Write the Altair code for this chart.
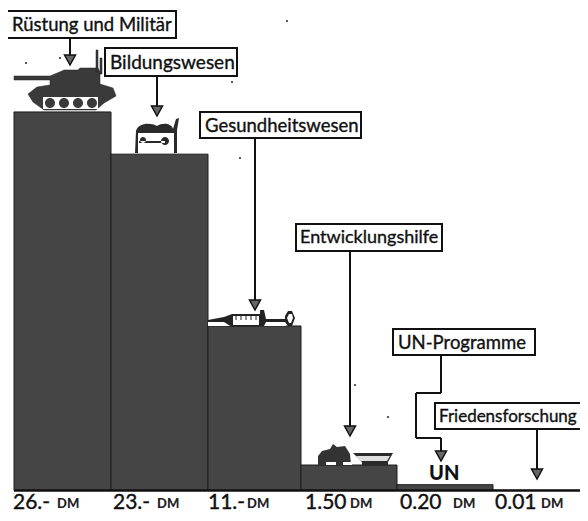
import altair as alt
import pandas as pd

# Bars
bar_left = [14, 111, 208, 301, 397, 493]
bar_right = [111, 208, 301, 397, 493, 586]
bar_value = [26.0, 23.1, 11.3, 1.75, 0.4, 0.01]

# Price labels
price_text = ["26.-", "23.-", "11.-", "1.50", "0.20", "0.01"]
price_x = [13, 113, 208, 305, 400, 495]
price_size = [21, 21, 21, 21, 21, 21]
dm_x = [57, 157, 247, 350, 453, 541]

# Captions
box_text = ["Rüstung und Militär", "Bildungswesen", "Gesundheitswesen", "Entwicklungshilfe", "UN-Programme", "Friedensforschung"]
box_x1 = [7, 105, 200, 296, 393, 435]
box_x2 = [176, 237, 361, 442, 535, 592]
box_y1 = [11, 48, 112, 224, 329, 403]
box_y2 = [38, 76, 138, 251, 355, 429]
text_x = [12, 110, 205, 300, 398, 439]
text_size = [18.5, 19, 18.5, 18, 18.5, 17]

# Leader segments
seg_x1 = [70, 157, 255, 350, 441, 416, 416, 416, 441, 537]
seg_x2 = [70, 157, 255, 350, 441, 441, 416, 441, 441, 537]
seg_y1 = [38, 76, 138, 251, 355, 393, 393, 438, 438, 429]
seg_y2 = [60, 110, 302, 430, 393, 393, 438, 438, 455, 472]
tip_x = [70, 157, 255, 350, 441, 537]
tip_y = [65, 116, 310, 436, 461, 479]

# Specks on the scan
speck_x = [287, 26, 232, 240, 388, 355, 60]
speck_y = [21, 63, 82, 158, 417, 385, 58]

# Icon outlines (image pixels)
tank_dark = ("M14,76L50,76L62,71L64,70L78,70L80,68L98,68L100,72L100,84L113,88L116,96L104,103L96,110L44,110L33,102L28,94L37,87L50,85L50,80L14,80Z"
             "M96,50L98,50L98,72L96,72Z M100,58L102,58L102,74L100,74Z")
tank_white = "M43,97L98,97L98,109L43,109Z"
tank_wheels = ("M45,103a5,5 0 1,0 10,0a5,5 0 1,0 -10,0Z M59,103a5,5 0 1,0 10,0a5,5 0 1,0 -10,0Z"
               "M73,103a5,5 0 1,0 10,0a5,5 0 1,0 -10,0Z M87,103a5,5 0 1,0 10,0a5,5 0 1,0 -10,0Z")
satchel_white = "M135,130L177,130L177,153L136,153Z"
satchel_dark = ("M136,131C138,123 150,122 157,126C163,122 172,124 173,129L176,119L179,118L177,130L177,153L174,153L174,133L138,133L138,153L135,153Z"
                "M139,141L165,141L165,143L139,143Z M140,140a3,3 0 1,0 6,0a3,3 0 1,0 -6,0Z M161,141a4,4 0 1,0 8,0a4,4 0 1,0 -8,0Z")
syringe_white = "M208,321L224,318L232,315L260,315L262,320L284,320L286,326L208,326Z"
syringe_dark = ("M208,320L224,317L232,314L260,314L260,310L264,310L266,319L285,319L285,316L288,311L292,311L295,318L292,326L288,326L285,322L266,322L264,326L232,327L224,322L208,322Z")
syringe_inner = "M233,316L259,316L259,325L233,325Z M289,314L292,314L293,318L291,323L289,323L287,318Z M232,314"
syringe_ticks = "M236,316L236,320M241,316L241,320M246,316L246,320M251,316L251,320M256,316L256,320"
tractor_dark = ("M318,465L318,456L322,451L330,449L333,444L337,447L345,446L350,454L351,465Z")
tractor_white = "M326,462L336,462L336,465L326,465Z M343,462L352,462L352,465L343,465Z"
basket_dark = "M353,453L393,453L388,462L388,465L362,465L362,462Z"
basket_white = "M356,456L390,456L387,461L360,461Z"

BASE = 490.5
PER_DM = 14.56
BOTTOM = 513
RIGHT = 580


def dm(py):
    return (BASE - py) / PER_DM


def x_enc(field="x"):
    return alt.X(f"{field}:Q", scale=alt.Scale(domain=[8, RIGHT], nice=False, zero=False), axis=None)


def y_enc(field="y"):
    return alt.Y(f"{field}:Q", scale=alt.Scale(domain=[dm(BOTTOM), dm(8)], nice=False, zero=False), axis=None)


bars = pd.DataFrame({"x": bar_left, "x2": bar_right, "y": bar_value, "y0": [0] * 6})
bar_layer = alt.Chart(bars).mark_rect(fill="#454545", stroke="#1c1c1c", strokeWidth=1).encode(
    x=x_enc(), x2="x2:Q", y=y_enc(), y2="y0:Q")

base_layer = alt.Chart(pd.DataFrame({"x": [14], "x2": [586], "y": [0.0]})).mark_rule(
    color="#111111", strokeWidth=2.5).encode(x=x_enc(), x2="x2:Q", y=y_enc())

seg = pd.DataFrame({"x": seg_x1, "x2": seg_x2, "y": [dm(v) for v in seg_y1], "y2": [dm(v) for v in seg_y2]})
seg_layer = alt.Chart(seg).mark_rule(color="#111111", strokeWidth=2).encode(
    x=x_enc(), x2="x2:Q", y=y_enc(), y2="y2:Q")

tips = pd.DataFrame({"x": tip_x, "y": [dm(v) for v in tip_y]})
tip_layer = alt.Chart(tips).mark_point(
    shape="M-5.5,-10L5.5,-10L0,0Z", size=4, filled=True, fill="#666666", stroke="#111111",
    strokeWidth=1.5, opacity=1).encode(x=x_enc(), y=y_enc())

boxes = pd.DataFrame({"x": box_x1, "x2": box_x2, "y": [dm(v) for v in box_y1], "y2": [dm(v) for v in box_y2]})
box_layer = alt.Chart(boxes).mark_rect(fill="white", stroke="#111111", strokeWidth=2).encode(
    x=x_enc(), x2="x2:Q", y=y_enc(), y2="y2:Q")

labels = pd.DataFrame({"x": text_x, "y": [dm((a + b) / 2 + 0.5) for a, b in zip(box_y1, box_y2)],
                       "t": box_text, "s": text_size})
label_layer = alt.Chart(labels).mark_text(
    align="left", baseline="middle", font="Lato", color="#111111", stroke="#111111", strokeWidth=0.35).encode(
    x=x_enc(), y=y_enc(), text="t:N", size=alt.Size("s:Q", scale=None, legend=None))

prices = pd.DataFrame({"x": price_x, "y": [dm(509)] * 6, "t": price_text, "s": price_size})
price_layer = alt.Chart(prices).mark_text(
    align="left", baseline="alphabetic", font="Lato", color="#111111", stroke="#111111", strokeWidth=0.4).encode(
    x=x_enc(), y=y_enc(), text="t:N", size=alt.Size("s:Q", scale=None, legend=None))

dms = pd.DataFrame({"x": dm_x, "y": [dm(508)] * 6, "t": ["DM"] * 6})
dm_layer = alt.Chart(dms).mark_text(
    align="left", baseline="alphabetic", font="Lato", fontSize=13, fontWeight=900, color="#222222").encode(
    x=x_enc(), y=y_enc(), text="t:N")

un_layer = alt.Chart(pd.DataFrame({"x": [429], "y": [dm(480)], "t": ["UN"]})).mark_text(
    align="left", baseline="alphabetic", font="Lato", fontSize=20, fontWeight=900, color="#111111").encode(
    x=x_enc(), y=y_enc(), text="t:N")

specks = pd.DataFrame({"x": speck_x, "y": [dm(v) for v in speck_y]})
speck_layer = alt.Chart(specks).mark_point(shape="circle", size=5, filled=True, color="#333333", opacity=1).encode(
    x=x_enc(), y=y_enc())

origin = pd.DataFrame({"x": [0], "y": [dm(0)]})


def icon(path, fill, stroke=None, sw=0.0):
    kw = dict(shape=path, size=4, filled=True, fill=fill, opacity=1)
    if stroke:
        kw.update(stroke=stroke, strokeWidth=sw)
    else:
        kw.update(strokeWidth=0)
    return alt.Chart(origin).mark_point(**kw).encode(x=x_enc(), y=y_enc())


icons = [
    icon(tank_dark, "#3a3a3a", "#222222", 0.5),
    icon(tank_white, "#ffffff"),
    icon(tank_wheels, "#3a3a3a"),
    icon(satchel_white, "#ffffff"),
    icon(satchel_dark, "#2a2a2a"),
    icon(syringe_white, "#ffffff"),
    icon(syringe_dark, "#222222"),
    icon(syringe_inner, "#ffffff"),
    icon(syringe_ticks, "#222222", "#222222", 1),
    icon(tractor_dark, "#333333"),
    icon(tractor_white, "#ffffff"),
    icon(basket_dark, "#2a2a2a"),
    icon(basket_white, "#dddddd"),
]

chart = alt.layer(
    bar_layer, base_layer, *icons, seg_layer, tip_layer, box_layer, label_layer,
    price_layer, dm_layer, un_layer, speck_layer
).properties(
    width=RIGHT - 8, height=BOTTOM - 8, padding=0, autosize=alt.AutoSizeParams(type="none"), background="white"
).configure_view(stroke=None)

chart.save("out.html", embed_options={"renderer": "svg", "actions": False})
